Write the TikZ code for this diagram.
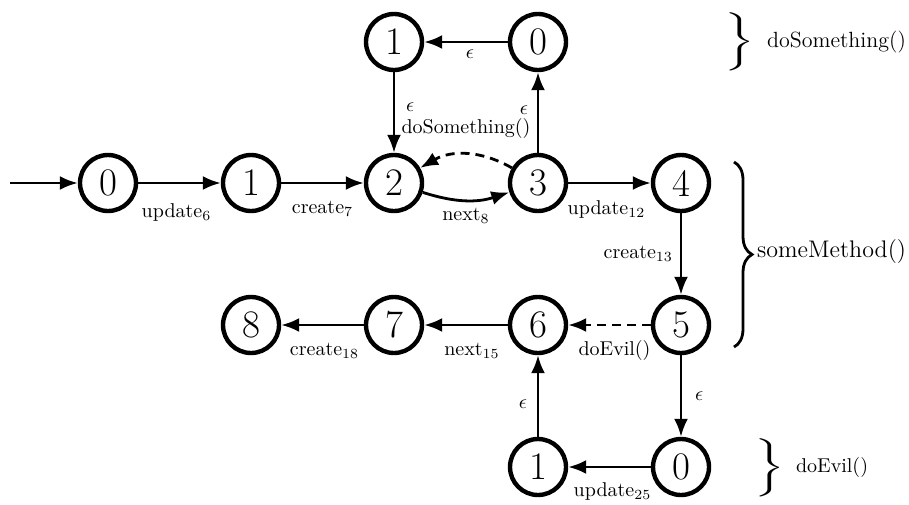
\documentclass[tikz,border=0pt]{standalone}
\usepackage{graphicx}
\usetikzlibrary{arrows.meta,decorations.pathreplacing}
\begin{document}
\begin{tikzpicture}[x=0.5pt,y=-0.5pt,
  st/.style={circle,draw,line width=2.2pt,minimum size=28pt,inner sep=0pt,font=\fontsize{19.5}{23}\selectfont},
  tr/.style={-{Latex[length=9pt,width=7pt]},line width=1.4pt},
  dsh/.style={dash pattern=on 4.5pt off 3pt},
  lbl/.style={font=\normalsize},
  lb/.style={below,font=\normalsize,yshift=-5pt},
  side/.style={anchor=west},
  bigbrace/.style={inner sep=0pt}]
\useasboundingbox (0,0) rectangle (909,504);
% main row
\node[st] (a0) at (108,183) {0};
\node[st] (a1) at (251,183) {1};
\node[st] (a2) at (394,183) {2};
\node[st] (a3) at (538,183) {3};
\node[st] (a4) at (681,183) {4};
% top
\node[st] (t1) at (394,42) {1};
\node[st] (t0) at (538,42) {0};
% second row
\node[st] (b8) at (251,325) {8};
\node[st] (b7) at (394,325) {7};
\node[st] (b6) at (538,325) {6};
\node[st] (b5) at (681,325) {5};
% bottom
\node[st] (c1) at (538,467) {1};
\node[st] (c0) at (681,467) {0};
\coordinate (init) at (10,183);
% edges
\draw[tr] (init) -- (a0);
\draw[tr] (a0) -- node[lb,yshift=-1.5pt,xshift=-1.5pt] {update$_6$} (a1);
\draw[tr] (a1) -- node[lb] {create$_7$} (a2);
\draw[tr] (a2) to[bend right=18] node[below,lbl] {next$_8$} (a3);
\draw[tr,dsh] (a3) to[bend right=30] node[above,lbl,yshift=4pt] {doSomething()} (a2);
\draw[tr] (a3) -- node[left,lbl,yshift=1pt,xshift=-1pt] {$\epsilon$} (t0);
\draw[tr] (t0) -- node[below,lbl,xshift=2pt] {$\epsilon$} (t1);
\draw[tr] (t1) -- node[right,lbl,yshift=2.5pt,xshift=2pt] {$\epsilon$} (a2);
\draw[tr] (a3) -- node[lb,xshift=-1.5pt] {update$_{12}$} (a4);
\draw[tr] (a4) -- node[left,lbl] {create$_{13}$} (b5);
\draw[tr,dsh] (b5) -- node[lb,yshift=1.5pt,xshift=2.5pt] {doEvil()} (b6);
\draw[tr] (b6) -- node[lb,xshift=3pt] {next$_{15}$} (b7);
\draw[tr] (b7) -- node[lb,xshift=1pt] {create$_{18}$} (b8);
\draw[tr] (b5) -- node[right,lbl,xshift=3pt] {$\epsilon$} (c0);
\draw[tr] (c0) -- node[lb,yshift=1pt,xshift=1.5pt] {update$_{25}$} (c1);
\draw[tr] (c1) -- node[left,lbl,yshift=-4pt,xshift=-1.5pt] {$\epsilon$} (b6);
% braces
\node[bigbrace] (br1) at (740,42) {\scalebox{1.9}[0.97]{$\Bigg\}$}};
\node[side,font=\fontsize{11}{13}\selectfont] (l1) at (760,42) {doSomething()};
\draw[decorate,decoration={brace,amplitude=9pt},line width=1.4pt] (734,162) -- (734,347);
\node[side,font=\large] (l2) at (750,252) {someMethod()};
\node[bigbrace] (br3) at (770,468) {\scalebox{1.9}[0.97]{$\Bigg\}$}};
\node[side,font=\normalsize] (l3) at (789,467) {doEvil()};
\end{tikzpicture}
\end{document}
